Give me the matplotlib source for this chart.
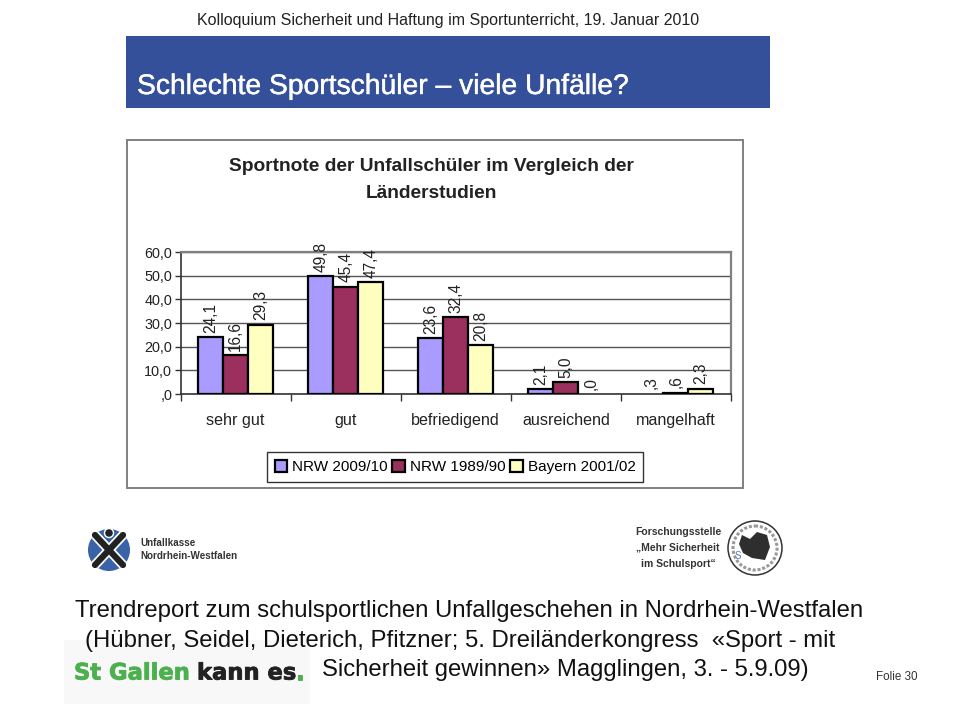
import matplotlib
matplotlib.use("Agg")
import matplotlib.pyplot as plt
import matplotlib.patheffects as pe
import numpy as np
from matplotlib.patches import Rectangle, Circle, Polygon

plt.rcParams['font.family'] = ['Liberation Sans', 'DejaVu Sans']

# chart data
categories = ["sehr gut", "gut", "befriedigend", "ausreichend", "mangelhaft"]
series_names = ["NRW 2009/10", "NRW 1989/90", "Bayern 2001/02"]
nrw_2009 = [24.1, 49.8, 23.6, 2.1, 0.3]
nrw_1989 = [16.6, 45.4, 32.4, 5.0, 0.6]
bayern_2001 = [29.3, 47.4, 20.8, 0.0, 2.3]
colors = ["#A99BFF", "#9B2F5E", "#FFFFC0"]
y_ticks = [0, 10, 20, 30, 40, 50, 60]

W, H = 960, 720


def fmt(v):
    # german spss style: no leading zero, comma
    s = f"{v:.1f}".replace(".", ",")
    return s[1:] if s.startswith("0") else s


def heavy(color, w):
    return [pe.Stroke(linewidth=w, foreground=color), pe.Normal()]


fig = plt.figure(figsize=(9.6, 7.2), dpi=100, facecolor="white")

# slide layer in pixel coordinates
bg = fig.add_axes([0, 0, 1, 1])
bg.set_xlim(0, W)
bg.set_ylim(H, 0)
bg.axis("off")

bg.text(448, 20, "Kolloquium Sicherheit und Haftung im Sportunterricht, 19. Januar 2010",
        ha="center", va="center", fontsize=11.5, color="#222222")
bg.add_patch(Rectangle((126, 36), 644, 72, fc="#34509A", ec="none"))
bg.text(137, 87, "Schlechte Sportschüler – viele Unfälle?", ha="left", va="center",
        fontsize=20.35, color="white", path_effects=heavy("white", 0.3))

# chart frame
bg.add_patch(Rectangle((127, 140), 616, 348, fc="white", ec="#808080", lw=1.4))
bg.text(431, 180, "Sportnote der Unfallschüler im Vergleich der\nLänderstudien",
        ha="center", va="center", fontsize=13.8, fontweight="bold", color="#222222",
        linespacing=1.72)

# left logo
bg.add_patch(Circle((109, 550), 21, fc="#3A62A8", ec="none"))
for xs, ys in [([95, 123], [535, 565]), ([123, 95], [535, 565])]:
    bg.plot(xs, ys, color="white", lw=7, solid_capstyle="butt")
for xs, ys in [([95, 123], [535, 565]), ([123, 95], [535, 565])]:
    bg.plot(xs, ys, color="#222222", lw=4.5, solid_capstyle="round")
bg.add_patch(Circle((109, 533), 4.5, fc="#222222", ec="white", lw=1))
bg.text(140, 543, "Unfallkasse", fontsize=7.1, fontweight="bold", va="center", color="#333333")
bg.text(140, 556, "Nordrhein-Westfalen", fontsize=7.1, fontweight="bold", va="center", color="#333333")

# right logo
for y, s in zip([532, 548, 564], ["Forschungsstelle", "„Mehr Sicherheit", "im Schulsport“"]):
    bg.text(678, y, s, fontsize=7.5, fontweight="bold", ha="center", va="center", color="#333333")
bg.add_patch(Circle((755, 548), 27, fc="white", ec="#333333", lw=1.1))
bg.add_patch(Circle((755, 548), 22, fc="none", ec="#999999", lw=2.2, ls=(0, (1, 0.6))))
bg.add_patch(Polygon([(742, 535), (750, 539), (757, 532), (767, 535), (770, 547), (765, 560),
                      (752, 558), (743, 553), (739, 544)], fc="#2E2E2E", ec="none"))
bg.text(735, 556, "S", fontsize=7, color="#5577BB", va="center")

# footer text
bg.add_patch(Rectangle((64, 640), 246, 64, fc="#F8F8F8", ec="none", zorder=0))
bg.text(75, 611, "Trendreport zum schulsportlichen Unfallgeschehen in Nordrhein-Westfalen",
        fontsize=17.2, va="center", color="#111111")
bg.text(85, 641, "(Hübner, Seidel, Dieterich, Pfitzner; 5. Dreiländerkongress  «Sport - mit",
        fontsize=17.2, va="center", color="#111111")
bg.text(322, 670, "Sicherheit gewinnen» Magglingen, 3. - 5.9.09)",
        fontsize=17.2, va="center", color="#111111")
bg.text(74, 673, "St Gallen", fontsize=16.3, fontweight="bold", color="#4DB04F",
        va="center", family="DejaVu Sans", path_effects=heavy("#4DB04F", 0.6))
bg.text(197, 673, "kann es", fontsize=16.3, fontweight="bold", color="#222222",
        va="center", family="DejaVu Sans", path_effects=heavy("#222222", 0.6))
bg.text(296, 673, ".", fontsize=16.3, fontweight="bold", color="#4DB04F",
        va="center", family="DejaVu Sans", path_effects=heavy("#4DB04F", 0.6))
bg.text(917, 677, "Folie 30", fontsize=8.4, ha="right", va="center", color="#333333")

# bar chart
left, right, top, bottom = 180.5, 731, 252, 394
ax = fig.add_axes([left / W, 1 - bottom / H, (right - left) / W, (bottom - top) / H])
ax.set_facecolor("white")

x = np.arange(len(categories))
bar_w = 0.227
all_series = [nrw_2009, nrw_1989, bayern_2001]
for i, (vals, c, name) in enumerate(zip(all_series, colors, series_names)):
    b = ax.bar(x + (i - 1) * bar_w, vals, bar_w, color=c, edgecolor="black", linewidth=1.6,
               label=name, zorder=3)
    for patch, v in zip(b, vals):
        # the flattest bars do not show in the original
        if v < 0.5:
            patch.set_visible(False)
    for xi, v in zip(x + (i - 1) * bar_w, vals):
        ax.annotate(fmt(v), (xi, v), xytext=(0, 3), textcoords="offset points",
                    rotation=90, ha="center", va="bottom", fontsize=11.2, color="#222222",
                    zorder=4)

ax.set_xlim(-0.5, 4.5)
ax.set_ylim(0, 60)
ax.set_yticks(y_ticks)
ax.set_yticklabels([fmt(v) for v in y_ticks], fontsize=10.4, color="#222222")
ax.set_xticks(np.arange(-0.5, 5, 1))
ax.set_xticklabels([])
ax.set_xticks(x, minor=True)
ax.set_xticklabels(categories, minor=True, fontsize=11.6, color="#222222")
ax.tick_params(axis="x", which="minor", length=0, pad=14)
ax.tick_params(axis="x", which="major", length=5, width=1, color="#333333")
ax.tick_params(axis="y", length=4, width=1, color="#333333", pad=2)
ax.grid(axis="y", color="#555555", lw=1, zorder=1)
ax.set_axisbelow(True)
for s in ["top", "right"]:
    ax.spines[s].set_color("#808080")
    ax.spines[s].set_linewidth(1.6)
for s in ["left", "bottom"]:
    ax.spines[s].set_color("#333333")
    ax.spines[s].set_linewidth(1.2)

leg = fig.legend(loc="center", bbox_to_anchor=(455 / W, 1 - 467 / H), ncols=3, fontsize=11,
                 frameon=True, fancybox=False, edgecolor="#333333", framealpha=1,
                 handlelength=0.85, handleheight=0.85, handletextpad=0.3, columnspacing=0.3,
                 borderpad=0.5, borderaxespad=0)
leg.get_frame().set_linewidth(1)

fig.savefig("out.png", dpi=100)
